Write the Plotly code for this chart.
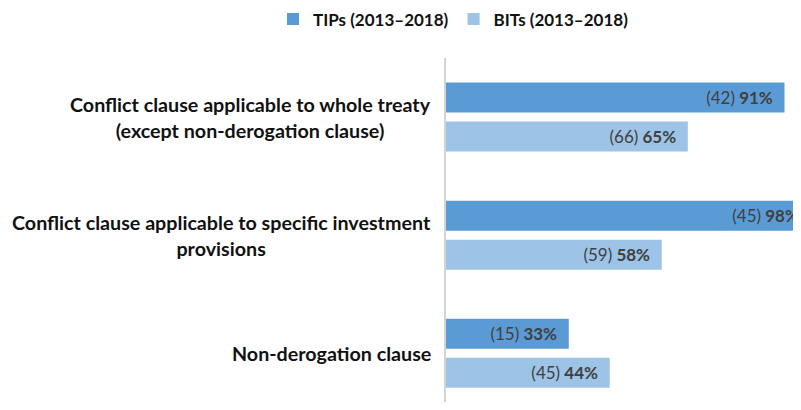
import plotly.graph_objects as go

categories = [
    "Conflict clause applicable to whole treaty<br>(except non-derogation clause)",
    "Conflict clause applicable to specific investment<br>provisions",
    "Non-derogation clause",
]
tips_pct = [91, 98, 33]
tips_n = [42, 45, 15]
bits_pct = [65, 58, 44]
bits_n = [66, 59, 45]
series_names = ["TIPs (2013\u20132018)", "BITs (2013\u20132018)"]

TIPS_COLOR = "#5b9bd5"
BITS_COLOR = "#9dc3e6"
LABEL_FONT = "Lato"

# page body has an 8px margin; the plot runs a little past the window's
# right edge so the longest bar is cropped there, as in the reference
W, H = 815, 394
ML, MT = 438, 50
PX_PER_PCT = 3.72
PX_PER_CAT = 118.1
XMAX = (W - ML) / PX_PER_PCT
plot_w = W - ML
plot_h = H - MT
YMAX = plot_h / PX_PER_CAT - 0.5

tmpl = "(%{customdata})<b> %{x}%</b>\u00a0\u00a0"

fig = go.Figure()
fig.add_trace(go.Bar(
    y=categories, x=tips_pct, customdata=tips_n, orientation="h",
    name=series_names[0], marker=dict(color=TIPS_COLOR, line=dict(width=0)),
    texttemplate=tmpl, textposition="inside", insidetextanchor="end",
    textfont=dict(family=LABEL_FONT, size=17, color="#404040"),
    constraintext="none", hoverinfo="skip",
))
fig.add_trace(go.Bar(
    y=categories, x=bits_pct, customdata=bits_n, orientation="h",
    name=series_names[1], marker=dict(color=BITS_COLOR, line=dict(width=0)),
    texttemplate=tmpl, textposition="inside", insidetextanchor="end",
    textfont=dict(family=LABEL_FONT, size=17, color="#404040"),
    constraintext="none", hoverinfo="skip",
))

for c in categories:
    fig.add_annotation(
        xref="paper", yref="y", x=0, y=c, xanchor="right", yanchor="middle",
        xshift=-13, text=c, showarrow=False, align="center",
        font=dict(family=LABEL_FONT, size=19.7, color="#111111", weight="bold"),
    )

fig.update_layout(
    width=W, height=H,
    margin=dict(l=ML, r=0, t=MT, b=0, autoexpand=False),
    paper_bgcolor="white", plot_bgcolor="white",
    barmode="group", bargap=0.34, bargroupgap=0.23,
    showlegend=True,
    legend=dict(
        orientation="h", xref="paper", yref="paper",
        x=(265 - ML) / plot_w, y=1 + (MT - 11.5) / plot_h,
        xanchor="left", yanchor="middle",
        font=dict(family=LABEL_FONT, size=17, color="#111111", weight="bold"),
        itemwidth=30, traceorder="normal",
    ),
    xaxis=dict(range=[0, XMAX], showgrid=False, zeroline=False,
               showticklabels=False, showline=False, fixedrange=True),
    yaxis=dict(autorange=False, range=[YMAX, -0.5], showgrid=False,
               zeroline=False, showticklabels=False, showline=True,
               linecolor="#d4d4d4", linewidth=2, ticks="", fixedrange=True),
)

fig.write_html("out.html")
